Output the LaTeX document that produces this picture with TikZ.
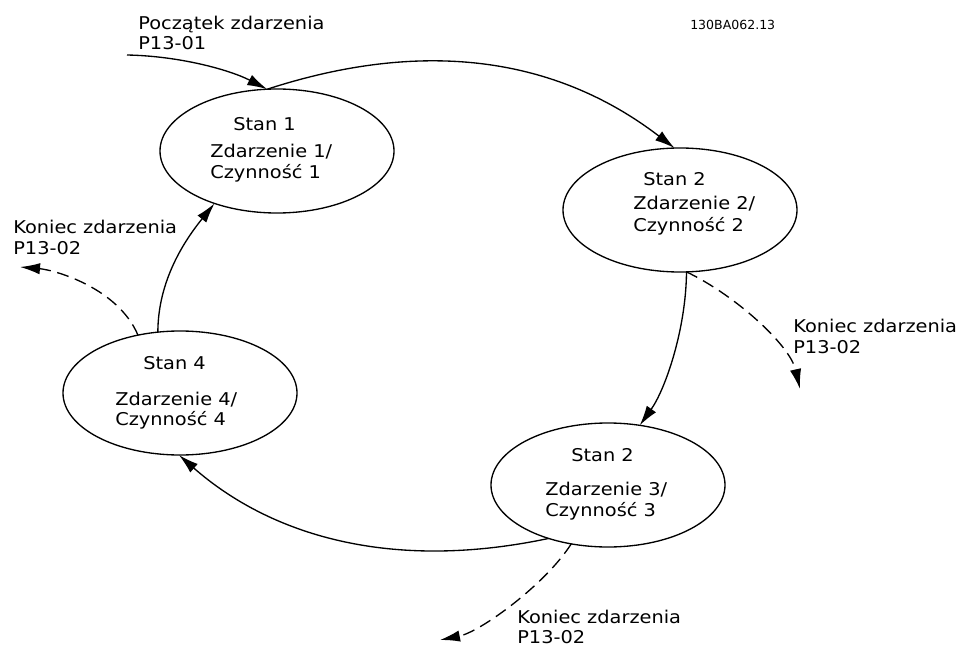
\documentclass[tikz,border=0pt]{standalone}
\usepackage{fontspec}
\setmainfont{DejaVu Sans}[FakeStretch=1.1]
\newfontfamily\codefont{DejaVu Sans}
\usetikzlibrary{shapes.geometric,arrows.meta}
\begin{document}
\begin{tikzpicture}[x=0.75pt,y=-0.75pt,
  state/.style={draw,ellipse,line width=1pt,minimum width=175.5pt,minimum height=93pt,inner sep=0pt,outer sep=0pt},
  txt/.style={anchor=base west,inner sep=0pt,font=\fontsize{13.2pt}{15pt}\selectfont},
  conn/.style={line width=1pt,-{Latex[length=15pt,width=8.5pt]}},
  dconn/.style={conn,dash pattern=on 9pt off 5pt}]
\useasboundingbox (0,0) rectangle (961,646);
% states
\node[state] (e1) at (277,151) {};
\node[state] (e2) at (680,210) {};
\node[state] (e3) at (608,485) {};
\node[state] (e4) at (180,393) {};
% texts in states
\node[txt] (s1a) at (233,130) {Stan 1};
\node[txt] (s1b) at (210,157) {Zdarzenie 1/};
\node[txt] (s1c) at (210,178) {Czynność 1};
\node[txt] (s2a) at (643,185) {Stan 2};
\node[txt] (s2b) at (633,209) {Zdarzenie 2/};
\node[txt] (s2c) at (633,231) {Czynność 2};
\node[txt] (s3a) at (571,461) {Stan 2};
\node[txt] (s3b) at (545,495) {Zdarzenie 3/};
\node[txt] (s3c) at (545,516) {Czynność 3};
\node[txt] (s4a) at (143,369) {Stan 4};
\node[txt] (s4b) at (115,405) {Zdarzenie 4/};
\node[txt] (s4c) at (115,425) {Czynność 4};
% labels
\node[txt] (l0a) at (138,30) {Początek zdarzenia};
\node[txt] (l0b) at (138,50) {P13-01};
\node[anchor=base west,inner sep=0pt,font=\codefont\fontsize{9.4pt}{11pt}\selectfont] (code) at (690,29) {130BA062.13};
\node[txt] (l4a) at (13,233) {Koniec zdarzenia};
\node[txt] (l4b) at (13,254) {P13-02};
\node[txt] (l2a) at (793,332) {Koniec zdarzenia};
\node[txt] (l2b) at (793,353) {P13-02};
\node[txt] (l3a) at (517,623) {Koniec zdarzenia};
\node[txt] (l3b) at (517,643) {P13-02};
% connectors
\coordinate (s0) at (127,55);
\draw[conn] (s0) .. controls (180,56) and (230,70) .. (e1.99);
\draw[conn] (e1.99) .. controls (400,46) and (540,45) .. (e2.95);
\draw[conn] (e2.-84) .. controls (686,330) and (665,390) .. (e3.62);
\coordinate (x2) at (800,389);
\draw[dconn] (e2.-84) .. controls (735,295) and (790,345) .. (x2);
\draw[conn] (e3.-138) .. controls (390,572) and (270,535) .. (e4.-91);
\coordinate (x3) at (440,640);
\draw[dconn] (e3.-122) .. controls (545,585) and (480,632) .. (x3);
\draw[conn] (e4.110) .. controls (158,280) and (185,240) .. (e1.-140);
\coordinate (x4) at (20,267);
\draw[dconn] (e4.126) .. controls (118,288) and (55,270) .. (x4);
\end{tikzpicture}
\end{document}
